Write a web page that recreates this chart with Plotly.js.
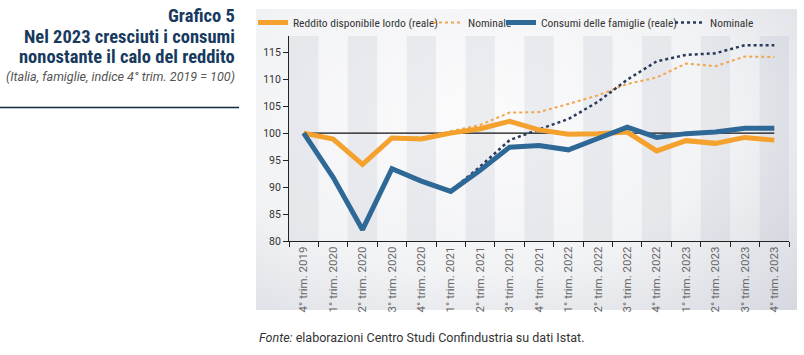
<!DOCTYPE html>
<html>
<head>
<meta charset="utf-8">
<script src="https://cdn.plot.ly/plotly-3.0.1.min.js"></script>
<style>
  html, body { margin: 0; padding: 0; background: #ffffff; }
  #wrap { position: relative; width: 804px; height: 355px; overflow: hidden; }
  #bg { position: absolute; left: 256px; top: 9px; width: 541px; height: 301px;
        background: radial-gradient(ellipse 85% 95% at 40% 35%, #fbfbfc 0%, #f2f3f5 55%, #d3d7de 100%); }
  #chart { position: absolute; left: 0; top: 0; width: 804px; height: 355px; }
</style>
</head>
<body>
<div id="wrap">
  <div id="bg"></div>
  <div id="chart"></div>
</div>
<script>
// ---- data ----
const categories = [
  "4° trim. 2019", "1° trim. 2020", "2° trim. 2020", "3° trim. 2020", "4° trim. 2020",
  "1° trim. 2021", "2° trim. 2021", "3° trim. 2021", "4° trim. 2021",
  "1° trim. 2022", "2° trim. 2022", "3° trim. 2022", "4° trim. 2022",
  "1° trim. 2023", "2° trim. 2023", "3° trim. 2023", "4° trim. 2023"
];
const redditoReale    = [100.0, 98.9, 94.2, 99.1, 98.9, 100.0, 100.8, 102.2, 100.6, 99.8, 99.9, 100.2, 96.7, 98.6, 98.1, 99.2, 98.7];
const redditoNominale = [100.0, 99.1, 94.3, 99.3, 99.2, 100.3, 101.5, 103.8, 103.9, 105.4, 107.0, 109.1, 110.3, 112.9, 112.4, 114.2, 114.1];
const consumiReale    = [100.0, 91.8, 82.1, 93.4, 91.1, 89.2, 93.1, 97.4, 97.7, 96.9, 99.0, 101.1, 99.2, 99.9, 100.2, 100.9, 100.9];
const consumiNominale = [100.0, 92.0, 82.2, 93.5, 91.2, 89.3, 93.8, 98.7, 100.7, 102.6, 105.8, 109.9, 113.3, 114.5, 114.8, 116.3, 116.3];
const yTicks = [80, 85, 90, 95, 100, 105, 110, 115];
const legendNames = ["Reddito disponibile lordo (reale)", "Nominale", "Consumi delle famiglie (reale)", "Nominale"];
const titleLines = ["Grafico 5", "Nel 2023 cresciuti i consumi", "nonostante il calo del reddito"];
const subtitle = "(Italia, famiglie, indice 4° trim. 2019 = 100)";
const sourceNote = "<i>Fonte:</i> elaborazioni Centro Studi Confindustria su dati Istat.";

// ---- style ----
const ORANGE = "#f4a12e";
const ORANGE_DOT = "#f2a54c";
const BLUE = "#2e6896";
const NAVY_DOT = "#2a3b5a";
const FONT = "Roboto, 'Liberation Sans', sans-serif";
const COND = "'Roboto Condensed', 'DejaVu Sans Condensed', 'Liberation Sans Narrow', Roboto, sans-serif";

const traces = [
  { x: categories, y: redditoNominale, name: legendNames[1], type: "scatter", mode: "lines",
    line: { color: ORANGE_DOT, width: 2, dash: "dot" }, legend: "legend2" },
  { x: categories, y: consumiNominale, name: legendNames[3], type: "scatter", mode: "lines",
    line: { color: NAVY_DOT, width: 2.5, dash: "dot" }, legend: "legend4" },
  { x: categories, y: redditoReale, name: legendNames[0], type: "scatter", mode: "lines",
    line: { color: ORANGE, width: 5 }, legend: "legend" },
  { x: categories, y: consumiReale, name: legendNames[2], type: "scatter", mode: "lines",
    line: { color: BLUE, width: 5 }, legend: "legend3" }
];

// plot area geometry (px) for paper-coordinate annotations
const L = 289, R = 15, T = 36, B = 114, W = 804, H = 355;
const pw = W - L - R, ph = H - T - B;
const px2x = p => (p - L) / pw;
const py2y = p => (H - B - p) / ph;

const shapes = [];
for (let i = 0; i < categories.length; i += 2) {
  shapes.push({ type: "rect", xref: "x", yref: "paper", x0: i - 0.5, x1: i + 0.5, y0: 0, y1: 1,
    fillcolor: "rgba(165,172,188,0.17)", line: { width: 0 }, layer: "below" });
}
shapes.push({ type: "line", xref: "x", yref: "y", x0: 0, x1: categories.length - 1, y0: 100, y1: 100,
  line: { color: "#111111", width: 1.2 }, layer: "below" });
// divider under the title block
shapes.push({ type: "line", xref: "paper", yref: "paper", x0: px2x(0), x1: px2x(239), y0: py2y(107.5), y1: py2y(107.5),
  line: { color: "#0f2a3c", width: 1.6 } });

const annotations = [
  { text: "<b>" + titleLines[0] + "</b>", x: px2x(237), y: py2y(16), xanchor: "right", yanchor: "middle",
    font: { family: COND, size: 18.5, color: "#173a5e" } },
  { text: "<b>" + titleLines[1] + "</b>", x: px2x(237), y: py2y(37), xanchor: "right", yanchor: "middle",
    font: { family: COND, size: 18.5, color: "#173a5e" } },
  { text: "<b>" + titleLines[2] + "</b>", x: px2x(237), y: py2y(56.5), xanchor: "right", yanchor: "middle",
    font: { family: COND, size: 18.5, color: "#173a5e" } },
  { text: "<i>" + subtitle + "</i>", x: px2x(237), y: py2y(76), xanchor: "right", yanchor: "middle",
    font: { family: FONT, size: 12.6, color: "#555555" } },
  { text: sourceNote, x: px2x(257), y: py2y(337), xanchor: "left", yanchor: "middle",
    font: { family: FONT, size: 12.5, color: "#333333" } }
].map(a => Object.assign({ xref: "paper", yref: "paper", showarrow: false, align: "right" }, a));

const legendBase = (xpx) => ({
  orientation: "h", x: px2x(xpx), xanchor: "left", y: py2y(22.5), yanchor: "middle",
  bgcolor: "rgba(0,0,0,0)", font: { family: COND, size: 11.5, color: "#333333" },
  itemwidth: 30
});

const layout = {
  width: W, height: H,
  margin: { l: L, r: R, t: T, b: B, pad: 0, autoexpand: false },
  paper_bgcolor: "rgba(0,0,0,0)",
  plot_bgcolor: "rgba(0,0,0,0)",
  font: { family: FONT, size: 11, color: "#333333" },
  showlegend: true,
  legend: legendBase(253),
  legend2: legendBase(428),
  legend3: legendBase(501),
  legend4: legendBase(670),
  xaxis: {
    type: "category", range: [-0.5, categories.length - 0.5],
    showgrid: false, zeroline: false, showline: true, linecolor: "#222222", linewidth: 1,
    ticks: "outside", ticklen: 5, tickcolor: "#222222", tickson: "boundaries",
    tickangle: -90, tickfont: { family: FONT, size: 11.5, color: "#666666" }, fixedrange: true
  },
  yaxis: {
    range: [80, 118], tickvals: yTicks, ticktext: yTicks.map(String),
    showgrid: false, zeroline: false, showline: true, linecolor: "#222222", linewidth: 1,
    ticks: "outside", ticklen: 5, tickcolor: "#222222",
    tickfont: { family: FONT, size: 10.5, color: "#333333" }, fixedrange: true
  },
  shapes: shapes,
  annotations: annotations
};

Plotly.newPlot("chart", traces, layout, { displayModeBar: false, staticPlot: true });
</script>
</body>
</html>
